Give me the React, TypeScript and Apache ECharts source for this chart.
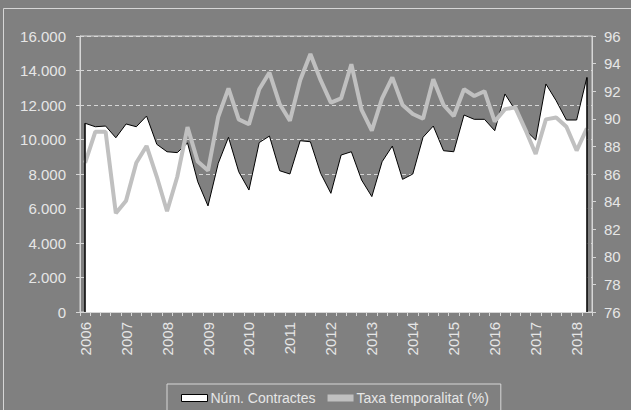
import React, { useEffect, useRef } from "react";
import * as echarts from "echarts";

const years = ["2006","2007","2008","2009","2010","2011","2012","2013","2014","2015","2016","2017","2018"];
const quarters = ["T1","T2","T3","T4"];
const categories: string[] = [];
years.forEach((y) => quarters.forEach((q) => categories.push(q + " " + y)));
categories.length = 50;

const contractes = [
  10940, 10740, 10780, 10100, 10900, 10740, 11360, 9720, 9290, 9240,
  9800, 7550, 6150, 8620, 10130, 8130, 7070, 9820, 10200, 8190,
  8000, 9930, 9870, 8040, 6880, 9100, 9290, 7650, 6690, 8710,
  9620, 7690, 8000, 10130, 10780, 9350, 9290, 11420, 11170, 11170,
  10510, 12640, 11710, 10550, 9970, 13220, 12250, 11130, 11130, 13600,
];

const temporalitat = [
  86.8, 89.07, 89.07, 83.15, 84.07, 86.82, 88.03, 85.8, 83.3, 85.8,
  89.4, 86.9, 86.25, 90.15, 92.2, 89.96, 89.6, 92.14, 93.35, 91.07,
  89.86, 92.8, 94.7, 92.8, 91.17, 91.48, 93.95, 90.64, 89.14, 91.48,
  93.0, 91.0, 90.35, 90.0, 92.86, 91.0, 90.2, 92.14, 91.65, 92.0,
  89.8, 90.7, 90.83, 89.2, 87.45, 89.96, 90.1, 89.43, 87.7, 89.3,
];

const seriesNames = ["Núm. Contractes", "Taxa temporalitat (%)"];

const BG = "#808080";
const TXT = "#e6e6e6";
const LINE = "#d6d6d6";
const FONT = "Liberation Sans, Arial, sans-serif";

export default function App() {
  const ref = useRef<HTMLDivElement>(null);
  useEffect(() => {
    document.body.style.margin = "0";
    document.body.style.background = BG;
    const chart = echarts.init(ref.current!, null, { renderer: "svg" });
    const last = categories.length - 1;
    chart.setOption({
      animation: false,
      backgroundColor: BG,
      textStyle: { fontFamily: FONT },
      graphic: [
        {
          type: "rect",
          shape: { x: 3.5, y: 8.5, width: 700, height: 500 },
          style: { fill: "none", stroke: LINE, lineWidth: 1 },
          silent: true,
        },
      ],
      grid: {
        left: 80,
        right: 39,
        top: 36,
        bottom: 98,
        show: true,
        borderColor: LINE,
        borderWidth: 1,
        backgroundColor: "transparent",
      },
      legend: {
        left: 167,
        top: 384,
        padding: [7, 12, 7, 14],
        borderColor: LINE,
        borderWidth: 1,
        itemGap: 12,
        itemWidth: 26,
        itemHeight: 7,
        textStyle: { color: TXT, fontSize: 14, fontFamily: FONT, padding: [0, 0, 0, -2] },
        data: [
          {
            name: seriesNames[0],
            icon: "rect",
            itemStyle: { color: "#ffffff", borderColor: "#000000", borderWidth: 1 },
          },
          {
            name: seriesNames[1],
            icon: "rect",
            itemHeight: 4,
            itemStyle: { color: "#c0c0c0", borderWidth: 0 },
          },
        ],
      },
      xAxis: {
        type: "category",
        data: categories,
        boundaryGap: true,
        axisLine: { show: true, lineStyle: { color: LINE, width: 1 } },
        axisTick: { show: true, interval: 0, length: 4, lineStyle: { color: LINE } },
        axisLabel: {
          interval: 3,
          rotate: 90,
          margin: 10,
          color: TXT,
          fontSize: 15,
          fontFamily: FONT,
          formatter: (v: string) => v.slice(-4),
        },
        splitLine: { show: false },
      },
      yAxis: [
        {
          type: "value",
          min: 0,
          max: 16000,
          interval: 2000,
          axisLine: { show: true, lineStyle: { color: LINE } },
          axisTick: { show: true, length: 4, lineStyle: { color: LINE } },
          axisLabel: {
            color: TXT,
            fontSize: 15,
            fontFamily: FONT,
            margin: 14,
            formatter: (v: number) => v.toString().replace(/\B(?=(\d{3})+(?!\d))/g, "."),
          },
          splitLine: { show: true, lineStyle: { color: LINE, type: [4, 3], width: 1 } },
        },
        {
          type: "value",
          min: 76,
          max: 96,
          interval: 2,
          position: "right",
          axisLine: { show: true, lineStyle: { color: LINE } },
          axisTick: { show: true, length: 4, lineStyle: { color: LINE } },
          axisLabel: { color: TXT, fontSize: 15, fontFamily: FONT, margin: 12 },
          splitLine: { show: false },
        },
      ],
      series: [
        {
          name: seriesNames[0],
          type: "line",
          yAxisIndex: 0,
          data: contractes,
          symbol: "none",
          color: "#000000",
          lineStyle: { color: "#000000", width: 1 },
          areaStyle: { color: "#ffffff", opacity: 1 },
          z: 2,
          markLine: {
            silent: true,
            symbol: "none",
            label: { show: false },
            lineStyle: { color: "#000000", width: 1.5, type: "solid" },
            data: [
              [{ coord: [0, 0] }, { coord: [0, contractes[0]] }],
              [{ coord: [last, 0] }, { coord: [last, contractes[last]] }],
            ],
          },
        },
        {
          name: seriesNames[1],
          type: "line",
          yAxisIndex: 1,
          data: temporalitat,
          symbol: "none",
          color: "#c0c0c0",
          lineStyle: { color: "#c0c0c0", width: 4 },
          z: 3,
        },
      ],
    });
    return () => chart.dispose();
  }, []);
  return (
    <div
      ref={ref}
      style={{ position: "absolute", left: 0, top: 0, width: 631, height: 410, background: BG }}
    />
  );
}
